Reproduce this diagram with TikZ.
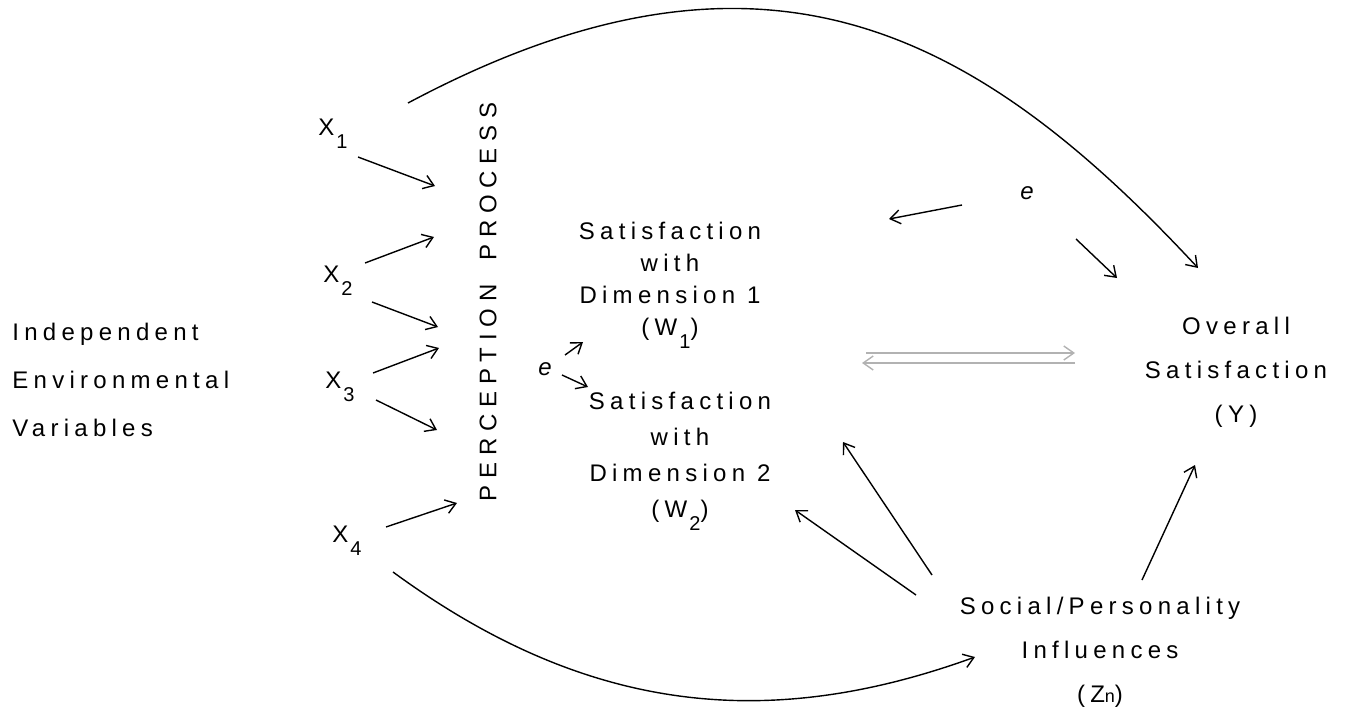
\documentclass[tikz,border=0pt]{standalone}
\usepackage{fontspec}
\setmainfont{Liberation Sans}
\newfontfamily\letfont[LetterSpace=22]{Liberation Sans}
\newfontfamily\capfont[LetterSpace=28]{Liberation Sans}
\usetikzlibrary{arrows.meta}

\newcommand\lfont[1]{\letfont\fontsize{12}{#1}\selectfont}
\newcommand\lowsub[1]{\hspace{1pt}\raisebox{-0.55em}{\fontsize{10}{10}\selectfont #1}}

\begin{document}
\begin{tikzpicture}[x=0.5pt, y=-0.5pt,
    every node/.style={inner sep=0pt, font=\lfont{16}},
    blk/.style={align=center},
    arr/.style={-{Straight Barb[length=5pt,width=7pt]}, line width=0.7pt},
    fbk/.style={arr, gray!60}]

\useasboundingbox (0,0) rectangle (1348,712);

% Left label
\node[anchor=west, align=left, font=\lfont{24}] (env) at (12,380)
    {Independent\\Environmental\\Variables};

% Input variables
\node[anchor=base west] (x1) at (318,135) {X\lowsub{1}};
\node[anchor=base west] (x2) at (323,282) {X\lowsub{2}};
\node[anchor=base west] (x3) at (325,388) {X\lowsub{3}};
\node[anchor=base west] (x4) at (332,542) {X\lowsub{4}};

% Perception stage
\node[rotate=90, font=\capfont\fontsize{12}{12}\selectfont] (perc) at (488,302)
    {PERCEPTION\hspace{12pt}PROCESS};

% Satisfaction nodes
\node[blk] (w1) at (670,285) {Satisfaction\\with\\Dimension 1\\(W\lowsub{1})};
\node[blk, font=\lfont{18}] (w2) at (680,461) {Satisfaction\\with\\Dimension 2\\(W\lowsub{2})};
\node[blk, font=\lfont{22}] (ovr) at (1236,372) {Overall\\Satisfaction\\(Y)};
\node[blk, font=\lfont{22}] (soc) at (1100,652) {Social/Personality\\Influences\\(Z{\small n})};

% Error terms
\node[font=\itshape\lfont{16}] (e1) at (545,369) {e};
\node[font=\itshape\lfont{16}] (e2) at (1027,193) {e};

% Arrow ends
\coordinate (s1) at (358,157);  \coordinate (p1) at (435,186);
\coordinate (s2a) at (365,263); \coordinate (p2a) at (434,237);
\coordinate (s2b) at (372,302); \coordinate (p2b) at (438,327);
\coordinate (s3a) at (373,373); \coordinate (p3a) at (439,348);
\coordinate (s3b) at (376,400); \coordinate (p3b) at (437,430);
\coordinate (s4) at (386,527);  \coordinate (p4) at (457,503);
\coordinate (x1top) at (408,103); \coordinate (ytop) at (1198,268);
\coordinate (x4bot) at (393,572); \coordinate (zin) at (975,657);
\coordinate (zs1) at (932,575);  \coordinate (w1in) at (843,442);
\coordinate (zs2) at (916,595);  \coordinate (w2in) at (795,510);
\coordinate (zs3) at (1142,580); \coordinate (yin) at (1195,465);
\coordinate (e1a) at (565,355);  \coordinate (e1b) at (583,342);
\coordinate (e1c) at (562,375);  \coordinate (e1d) at (588,387);
\coordinate (e2a) at (962,205);  \coordinate (e2b) at (889,219);
\coordinate (e2c) at (1076,239); \coordinate (e2d) at (1117,278);
\coordinate (fa) at (866,353);   \coordinate (fb) at (1075,353);
\coordinate (fc) at (1075,363);  \coordinate (fd) at (862,363);

% Inputs into perception
\draw[arr] (s1) -- (p1);
\draw[arr] (s2a) -- (p2a);
\draw[arr] (s2b) -- (p2b);
\draw[arr] (s3a) -- (p3a);
\draw[arr] (s3b) -- (p3b);
\draw[arr] (s4) -- (p4);

% Direct paths
\draw[arr] (x1top) .. controls (761,-85) and (974,27) .. (ytop);
\draw[arr] (x4bot) .. controls (587,714) and (768,732) .. (zin);

% Social influences
\draw[arr] (zs1) -- (w1in);
\draw[arr] (zs2) -- (w2in);
\draw[arr] (zs3) -- (yin);

% Error arrows
\draw[arr] (e1a) -- (e1b);
\draw[arr] (e1c) -- (e1d);
\draw[arr] (e2a) -- (e2b);
\draw[arr] (e2c) -- (e2d);

% Feedback between W and Y
\draw[fbk] (fa) -- (fb);
\draw[fbk] (fc) -- (fd);

\end{tikzpicture}
\end{document}
